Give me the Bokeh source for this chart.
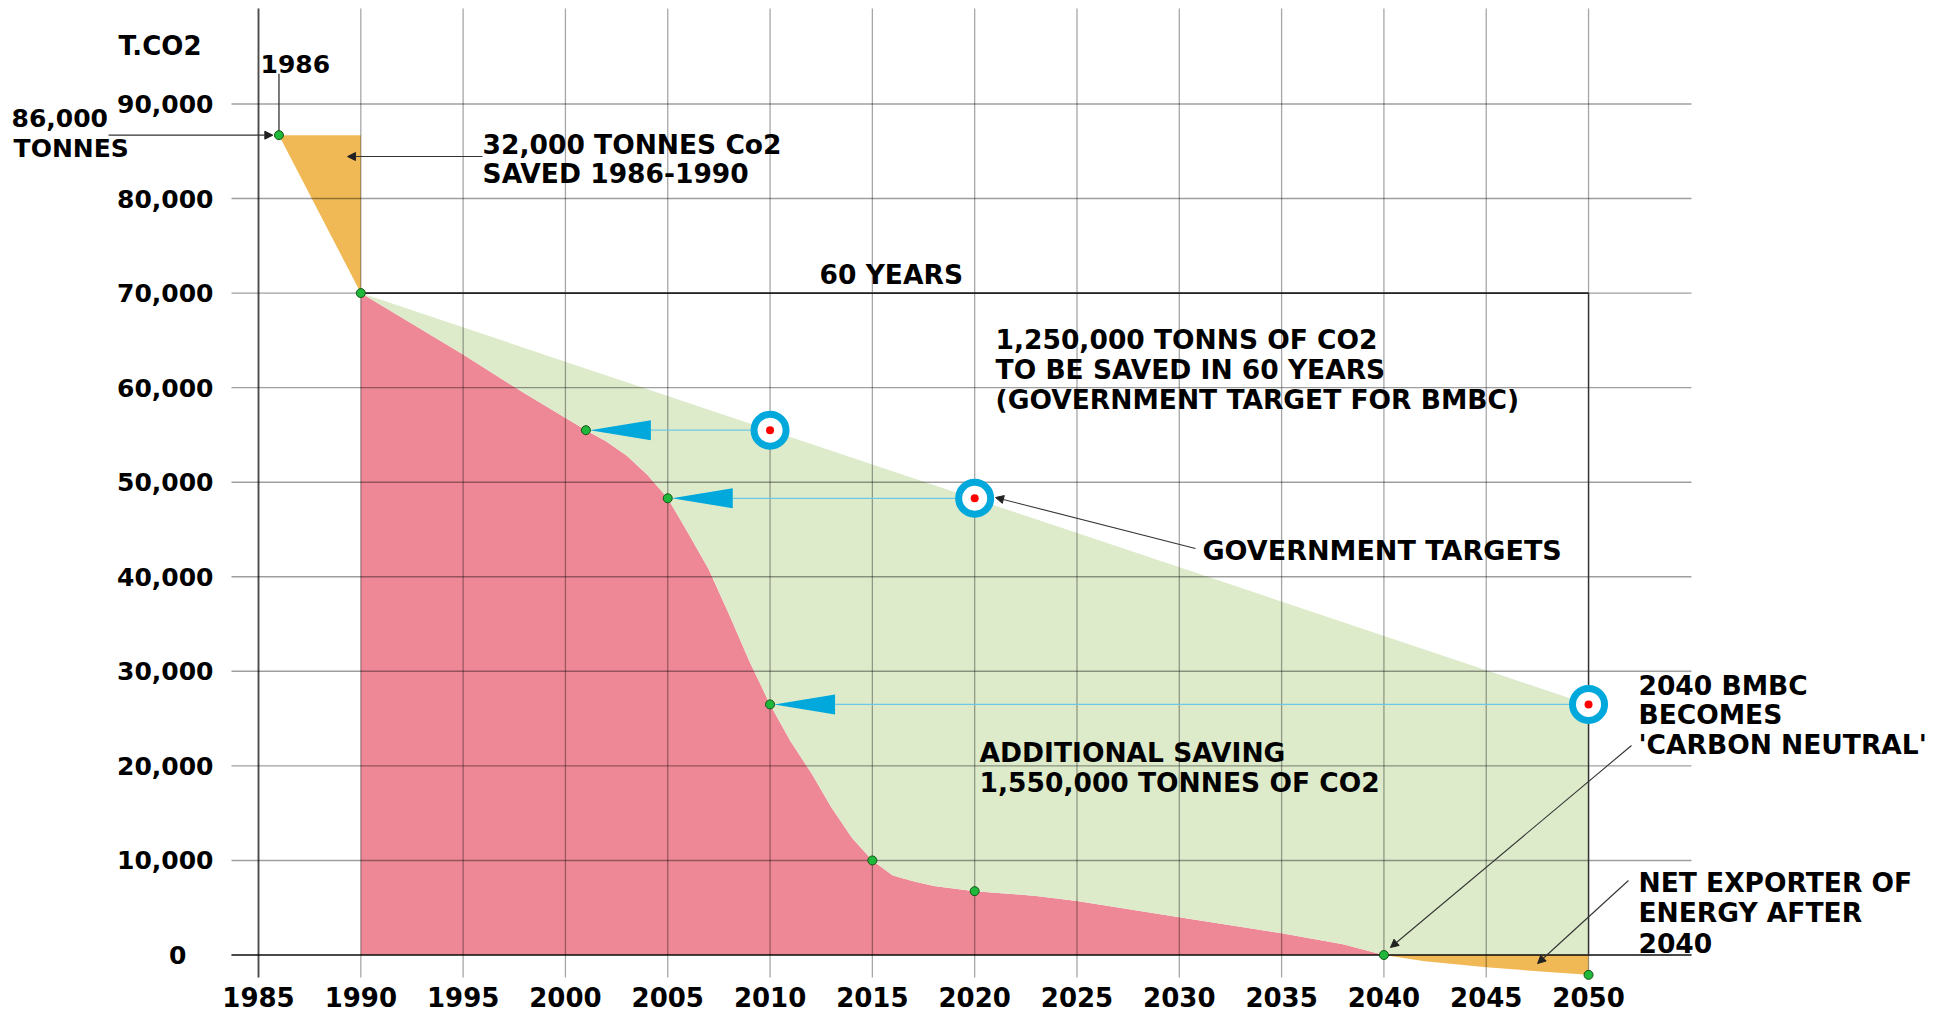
from bokeh.plotting import figure
from bokeh.models import Arrow, NormalHead
from bokeh.core.properties import value
from bokeh.embed import file_html
from bokeh.resources import INLINE

# ---------------- data ----------------
x_ticks = [1985, 1990, 1995, 2000, 2005, 2010, 2015, 2020, 2025, 2030, 2035, 2040, 2045, 2050]
y_ticks = [0, 10000, 20000, 30000, 40000, 50000, 60000, 70000, 80000, 90000]
y_tick_labels = ["0", "10,000", "20,000", "30,000", "40,000", "50,000", "60,000", "70,000", "80,000", "90,000"]

# actual / projected emissions (red area)
actual_years = [1990, 1995, 1998, 2001, 2002, 2003, 2004, 2005, 2006, 2007, 2008, 2009, 2010,
                2011, 2012, 2013, 2014, 2015, 2016, 2017, 2018, 2020, 2023, 2025, 2030,
                2035, 2038, 2040]
actual_values = [70000, 63500, 59400, 55500, 54300, 52800, 50800, 48300, 44600, 40800, 36000, 31000, 26500,
                 22600, 19300, 15600, 12400, 10000, 8400, 7800, 7300, 6750, 6250, 5700, 4000,
                 2300, 1150, 0]

# saving 1986-1990 (orange)
early_years = [1986, 1990]
early_values = [86700, 70000]

# government target line and target points
gov_years = [1990, 2050]
gov_values = [70000, 26500]
target_years = [2010, 2020, 2050]
target_values = [55500, 48300, 26500]
reached_years = [2001, 2005, 2010]

# net export after 2040 (orange, below zero)
export_years = [2040, 2042, 2045, 2048, 2050]
export_values = [0, -650, -1300, -1800, -2100]

# key points (green dots)
dot_years = [1986, 1990, 2001, 2005, 2010, 2015, 2020, 2040, 2050]
dot_values = [86700, 70000, 55500, 48300, 26500, 10000, 6750, 0, -2100]

# ---------------- figure ----------------
PX_X = 20.462      # pixels per year
PX_Y = 0.009456    # pixels per tonne

p = figure(width=1952, height=1014, x_range=(1972.391, 2067.787), y_range=(-6292, 100941),
           x_axis_type=None, y_axis_type=None, toolbar_location=None,
           output_backend="svg", min_border=0)
p.outline_line_color = None
p.background_fill_color = "white"

FONT = value("DejaVu Sans")
RED = "#EE8896"
GREEN = "#DDEBCB"
ORANGE = "#F0B955"
BLUE = "#00A8DC"

# red area
p.patch(actual_years + [2040, 1990], actual_values + [0, 0], fill_color=RED, line_color=None)

# green area between gov line and actual curve
gx = gov_years + [2050, 2040] + actual_years[::-1]
gy = gov_values + [0, 0] + actual_values[::-1]
p.patch(gx, gy, fill_color=GREEN, line_color=None)

# orange 1986-1990
p.patch([early_years[0], early_years[1], early_years[1]],
        [early_values[0], early_values[0], early_values[1]], fill_color=ORANGE, line_color=None)

# orange after 2040
p.patch(export_years + [2050], export_values + [0], fill_color=ORANGE, line_color=None)

# grid lines
h_x0, h_x1 = 1983.68, 2055.03
p.segment(x0=[h_x0] * len(y_ticks), x1=[h_x1] * len(y_ticks), y0=y_ticks, y1=y_ticks,
          line_color="black", line_alpha=0.38, line_width=1.4)
v_y0, v_y1 = -2380, 100100
p.segment(x0=x_ticks, x1=x_ticks, y0=[v_y0] * len(x_ticks), y1=[v_y1] * len(x_ticks),
          line_color="black", line_alpha=0.35, line_width=1.3)
# axis-like lines
p.segment(x0=[h_x0], x1=[h_x1], y0=[0], y1=[0], line_color="black", line_alpha=0.6, line_width=2)
p.segment(x0=[1985], x1=[1985], y0=[v_y0], y1=[v_y1], line_color="black", line_alpha=0.55, line_width=2)

# 60 years bracket
p.line([1990, 2050], [70000, 70000], line_color="#222222", line_width=1.6)
p.line([2050, 2050], [70000, 0], line_color="#333333", line_width=1.4)

# blue arrows from targets to the year they were reached
tri_len = 65 / PX_X
tri_half = 10 / PX_Y
for ry, tv, ty in zip(reached_years, target_values, target_years):
    p.line([ry + tri_len, ty], [tv, tv], line_color="#6CC8E6", line_width=1.2)
    p.patch([ry + 0.2, ry + tri_len, ry + tri_len], [tv, tv + tri_half, tv - tri_half],
            fill_color=BLUE, line_color=None)

# target rings
p.scatter(target_years, target_values, marker="circle", size=32, fill_color="white",
          line_color=BLUE, line_width=7)
p.scatter(target_years, target_values, marker="circle", size=8, fill_color="#FF0000", line_color=None)

# leader lines / annotation arrows
p.line([1986, 1986], [93200, early_values[0]], line_color="#333333", line_width=1.3)
head = dict(size=8, fill_color="#222222", line_color="#222222", line_width=1)
arrows = [
    (1977.67, 86700, 1985.7, 86700),
    (1995.95, 84440, 1989.35, 84440),
    (2030.79, 42989, 2021.02, 48382),
    (2052.10, 22155, 2040.32, 793),
    (2051.95, 7878, 2047.51, -899),
]
for xs, ys, xe, ye in arrows:
    p.add_layout(Arrow(end=NormalHead(**head), x_start=xs, y_start=ys, x_end=xe, y_end=ye,
                       line_color="#333333", line_width=1.1))

# green dots
p.scatter(dot_years, dot_values, marker="circle", size=9, fill_color="#1FB83A",
          line_color="#145214", line_width=1)

# tick labels
ylab_x = [1982.80 if t != 0 else 1981.48 for t in y_ticks]
p.text(x=ylab_x, y=y_ticks, text=y_tick_labels, text_font=FONT, text_font_style="bold",
       text_font_size=value("25px"), text_align="right", text_baseline="middle",
       text_color="black")
p.text(x=x_ticks, y=[0] * len(x_ticks), text=[str(t) for t in x_ticks], text_font=FONT,
       text_font_style="bold", text_font_size=value("26px"), text_align="center",
       text_baseline="middle", y_offset=42, text_color="black")

# annotation texts (positions are vertical centres of each line)
def label(x, y, t, size="26.5px"):
    p.text(x=[x], y=[y], text=[t], text_font=FONT, text_font_style="bold",
           text_font_size=value(size), text_align="left", text_baseline="middle",
           text_color="black")

label(1978.16, 96182, "T.CO2", "26px")
label(1985.10, 94173, "1986", "25px")
label(1972.93, 88463, "86,000", "25px")
label(1973.03, 85290, "TONNES", "25px")
label(1995.95, 85713, "32,000 TONNES Co2")
label(1995.95, 82646, "SAVED 1986-1990")
label(2012.42, 71964, "60 YEARS")
label(2021.02, 65090, "1,250,000 TONNS OF CO2")
label(2021.02, 61917, "TO BE SAVED IN 60 YEARS")
label(2021.02, 58745, "(GOVERNMENT TARGET FOR BMBC)")
label(2031.13, 42777, "GOVERNMENT TARGETS", "27px")
label(2052.44, 28500, "2040 BMBC")
label(2052.44, 25433, "BECOMES")
label(2052.44, 22261, "'CARBON NEUTRAL'")
label(2020.24, 21415, "ADDITIONAL SAVING")
label(2020.24, 18243, "1,550,000 TONNES OF CO2")
label(2052.44, 7667, "NET EXPORTER OF")
label(2052.44, 4495, "ENERGY AFTER")
label(2052.44, 1322, "2040")

open("out.html", "w").write(file_html(p, INLINE))
